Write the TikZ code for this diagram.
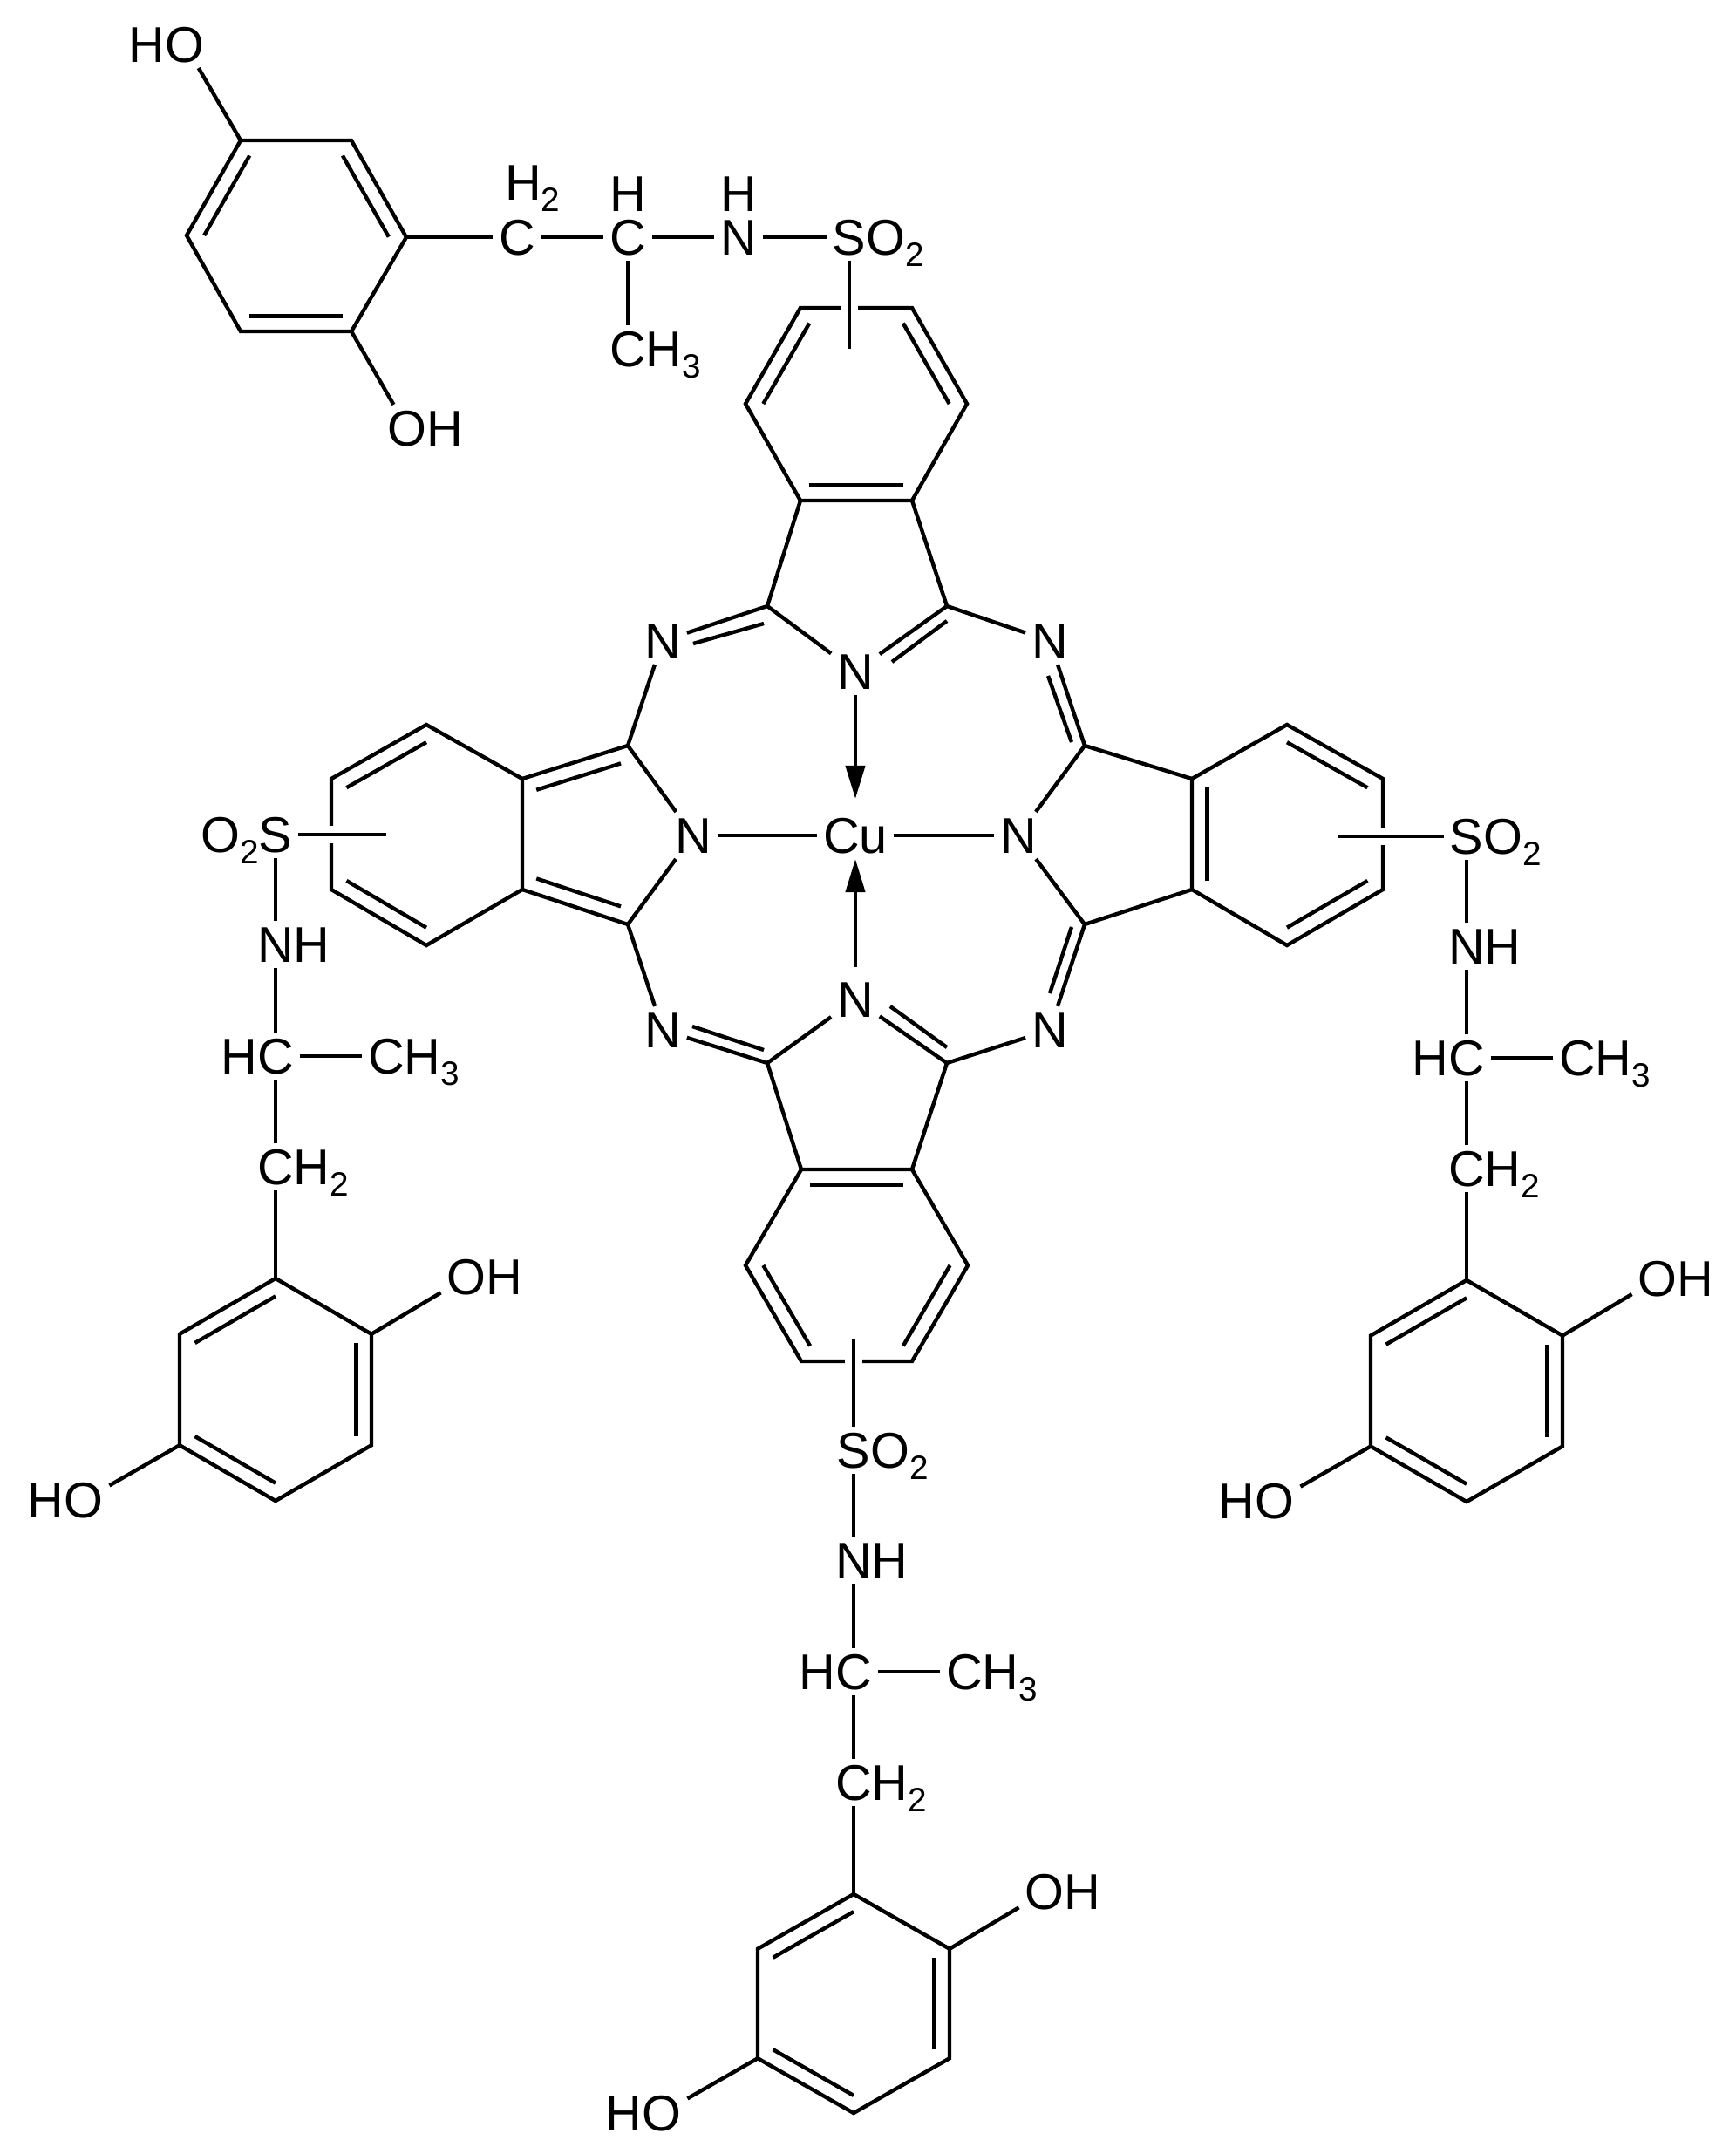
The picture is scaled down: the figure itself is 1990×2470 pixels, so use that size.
\documentclass[tikz,border=0pt]{standalone}
\usepackage{fontspec}
\usepackage{tikz}
\usetikzlibrary{calc,arrows.meta}
\setmainfont{Liberation Sans}
\newcommand{\lowered}[1]{\raisebox{-3.7pt}{\fontsize{11}{12}\selectfont #1}}
\tikzset{
  atom/.style={inner sep=0pt, outer sep=2pt, text height=0.40cm, text depth=0pt,
    font=\fontsize{16.4}{18}\selectfont},
  tailr/.style={atom, outer sep=0pt, anchor=west, xshift=-2pt},
  taill/.style={atom, outer sep=0pt, anchor=east, xshift=2pt},
  bond/.style={line width=1.25pt},
  cross/.style={bond, preaction={draw=white, line width=5.6pt}},
  dative/.style={bond, -{Stealth[length=3.8mm, width=2.2mm, inset=0pt]}}
}
\begin{document}
\begin{tikzpicture}[x=0.01cm,y=-0.01cm]
  \useasboundingbox (0,0) rectangle (1990,2470);
  % Ring corners of the four fused benzene rings and the pyrrole carbons
  \foreach \n/\px/\py in {tp1/918/353, tp2/1046/353, tp3/1109/463, tp4/1046/574, tp5/918/574, tp6/855/463, tpc/982/463,
      lp1/599/893, lp2/489/831, lp3/380/893, lp4/380/1020, lp5/489/1084, lp6/599/1020, lpc/489/957,
      rp1/1367/893, rp2/1476/831, rp3/1586/893, rp4/1586/1020, rp5/1476/1084, rp6/1367/1020, rpc/1476/957,
      bp1/919/1341, bp2/1046/1341, bp3/1110/1451, bp4/1046/1561, bp5/919/1561, bp6/855/1451, bpc/982/1451,
      c1/880/695, c2/1086/695, c3/720/855, c4/1244/855, c5/720/1060, c6/1244/1060, c7/880/1219, c8/1086/1219,
      lfc/680/957,
      n1a/876/715, n1b/795/738, n2a/1086/712, n2b/1023/759, n3a/1229/851, n3b/1202/775,
      n4a/1229/1063, n4b/1204/1139, n5a/876/1204, n5b/794/1177, n6a/1086/1201, n6b/1021/1154}
    \coordinate (\n) at (\px,\py);
  % Centre of the macrocycle
  \node[atom] (Cu) at (981,958) {Cu};
  \node[atom] (Ntop) at (981,770) {N};
  \node[atom] (Nbot) at (981,1146) {N};
  \node[atom] (Nleft) at (795,958) {N};
  \node[atom] (Nright) at (1168,958) {N};
  \node[atom] (Ntl) at (760,735) {N};
  \node[atom] (Ntr) at (1204,735) {N};
  \node[atom] (Nbl) at (760,1181) {N};
  \node[atom] (Nbr) at (1204,1181) {N};
  \draw[dative, shorten >=0.15cm] (Ntop) -- (Cu);
  \draw[dative, shorten <=0.10cm] (Nbot) -- (Cu);
  % Benzene rings
  \foreach \r in {tp,lp,rp,bp}
    \draw[bond] (\r1) -- (\r2) -- (\r3) -- (\r4) -- (\r5) -- (\r6) -- cycle;
  % Second lines of the double bonds, pulled towards the ring centre
  \foreach \pa/\pb/\pc in {tp1/tp6/tpc, tp2/tp3/tpc, tp4/tp5/tpc, lp2/lp3/lpc, lp4/lp5/lpc,
      rp2/rp3/rpc, rp4/rp5/rpc, rp1/rp6/rpc, bp1/bp2/bpc, bp3/bp4/bpc, bp5/bp6/bpc}
    \draw[bond] ($(\pa)!.16!(\pc)$) -- ($(\pb)!.16!(\pc)$);
  \foreach \pa/\pb in {lp1/c3, lp6/c5}
    \draw[bond] ($(\pa)!.2!(lfc)$) -- ($(\pb)!.2!(lfc)$);
  \foreach \pa/\pb in {n1a/n1b, n2a/n2b, n3a/n3b, n4a/n4b, n5a/n5b, n6a/n6b}
    \draw[bond] (\pa) -- (\pb);
  % Single bonds of the macrocycle
  \foreach \pa/\pb in {Nleft/Cu, Cu/Nright, tp5/c1, tp4/c2, lp1/c3, lp6/c5, rp1/c4, rp6/c6, bp1/c7, bp2/c8,
      c1/Ntop, c2/Ntop, c7/Nbot, c8/Nbot, c3/Nleft, c5/Nleft, c4/Nright, c6/Nright,
      c1/Ntl, c2/Ntr, c3/Ntl, c4/Ntr, c5/Nbl, c6/Nbr, c7/Nbl, c8/Nbr}
    \draw[bond] (\pa) -- (\pb);
  % The three arms that hang down
  \foreach \arm/\sx/\sy/\rh in {la/316/957/255, ra/1682/959/254, ba/979/1663/251}{
    \node[atom] (\arm S) at (\sx,\sy) {S};
    \node[atom] (\arm N) at (\sx,\sy+126) {N};
    \node[tailr] (\arm NH) at (\arm N.east) {H};
    \node[atom] (\arm C) at (\sx,\sy+254) {C};
    \node[taill] (\arm CH) at (\arm C.west) {H};
    \node[atom] (\arm M) at (\sx+127,\sy+254) {C};
    \node[tailr] (\arm MH) at (\arm M.east) {H\lowered{3}};
    \node[atom] (\arm E) at (\sx,\sy+381) {C};
    \node[tailr] (\arm EH) at (\arm E.east) {H\lowered{2}};
    \coordinate (\arm 1) at (\sx,\sy+509);
    \coordinate (\arm 2) at (\sx+110,\sy+509+.25*\rh);
    \coordinate (\arm 3) at (\sx+110,\sy+509+.75*\rh);
    \coordinate (\arm 4) at (\sx,\sy+509+\rh);
    \coordinate (\arm 5) at (\sx-110,\sy+509+.75*\rh);
    \coordinate (\arm 6) at (\sx-110,\sy+509+.25*\rh);
    \coordinate (\arm c) at (\sx,\sy+509+.5*\rh);
    \draw[bond] (\arm 1) -- (\arm 2) -- (\arm 3) -- (\arm 4) -- (\arm 5) -- (\arm 6) -- cycle;
    \draw[bond] ($(\arm 1)!.16!(\arm c)$) -- ($(\arm 6)!.16!(\arm c)$);
    \draw[bond] ($(\arm 2)!.16!(\arm c)$) -- ($(\arm 3)!.16!(\arm c)$);
    \draw[bond] ($(\arm 4)!.16!(\arm c)$) -- ($(\arm 5)!.16!(\arm c)$);
    \node[atom] (\arm O) at (\sx+110+109,\sy+509+.25*\rh-65) {O};
    \node[tailr] (\arm OH) at (\arm O.east) {H};
    \node[atom] (\arm P) at (\sx-110-110,\sy+509+.75*\rh+63) {O};
    \node[taill] (\arm PH) at (\arm P.west) {H};
    \draw[bond] (\arm S) -- (\arm N);
    \draw[bond] (\arm N) -- (\arm C);
    \draw[bond] (\arm C) -- (\arm M);
    \draw[bond] (\arm C) -- (\arm E);
    \draw[bond] (\arm E) -- (\arm 1);
    \draw[bond] (\arm 2) -- (\arm O);
    \draw[bond] (\arm 5) -- (\arm P);
  }
  \node[taill] (laSO) at (laS.west) {O\lowered{2}};
  \node[tailr] (raSO) at (raS.east) {O\lowered{2}};
  \node[tailr] (baSO) at (baS.east) {O\lowered{2}};
  % Sulfonyl bonds run across the rings
  \coordinate (laEnd) at (443,957);
  \coordinate (raEnd) at (1534,959);
  \coordinate (baEnd) at (979,1535);
  \coordinate (taEnd) at (974,400);
  \draw[cross] (laS) -- (laEnd);
  \draw[cross] (raS) -- (raEnd);
  \draw[cross] (baS) -- (baEnd);
  % The arm at the top
  \foreach \n/\px/\py in {ta1/276/161, ta2/403/161, ta3/466/272, ta4/403/380, ta5/276/380, ta6/214/270, tac/340/270}
    \coordinate (\n) at (\px,\py);
  \draw[bond] (ta1) -- (ta2) -- (ta3) -- (ta4) -- (ta5) -- (ta6) -- cycle;
  \foreach \pa/\pb in {ta2/ta3, ta4/ta5, ta6/ta1}
    \draw[bond] ($(\pa)!.16!(tac)$) -- ($(\pb)!.16!(tac)$);
  \node[atom] (taP) at (212,51) {O};
  \node[taill] (taPH) at (taP.west) {H};
  \node[atom] (taO) at (467,491) {O};
  \node[tailr] (taOH) at (taO.east) {H};
  \node[atom] (taE) at (593,272) {C};
  \node[atom, anchor=west] (taEH) at (572,209) {H\lowered{2}};
  \node[atom] (taC) at (720,272) {C};
  \node[atom] (taCH) at (720,222) {H};
  \node[atom] (taN) at (847,272) {N};
  \node[atom] (taNH) at (847,222) {H};
  \node[atom] (taS) at (974,272) {S};
  \node[tailr] (taSO) at (taS.east) {O\lowered{2}};
  \node[atom] (taM) at (720,400) {C};
  \node[tailr] (taMH) at (taM.east) {H\lowered{3}};
  \foreach \pa/\pb in {ta1/taP, ta4/taO, ta3/taE, taE/taC, taC/taN, taN/taS, taC/taM}
    \draw[bond] (\pa) -- (\pb);
  \draw[cross] (taS) -- (taEnd);
\end{tikzpicture}
\end{document}
